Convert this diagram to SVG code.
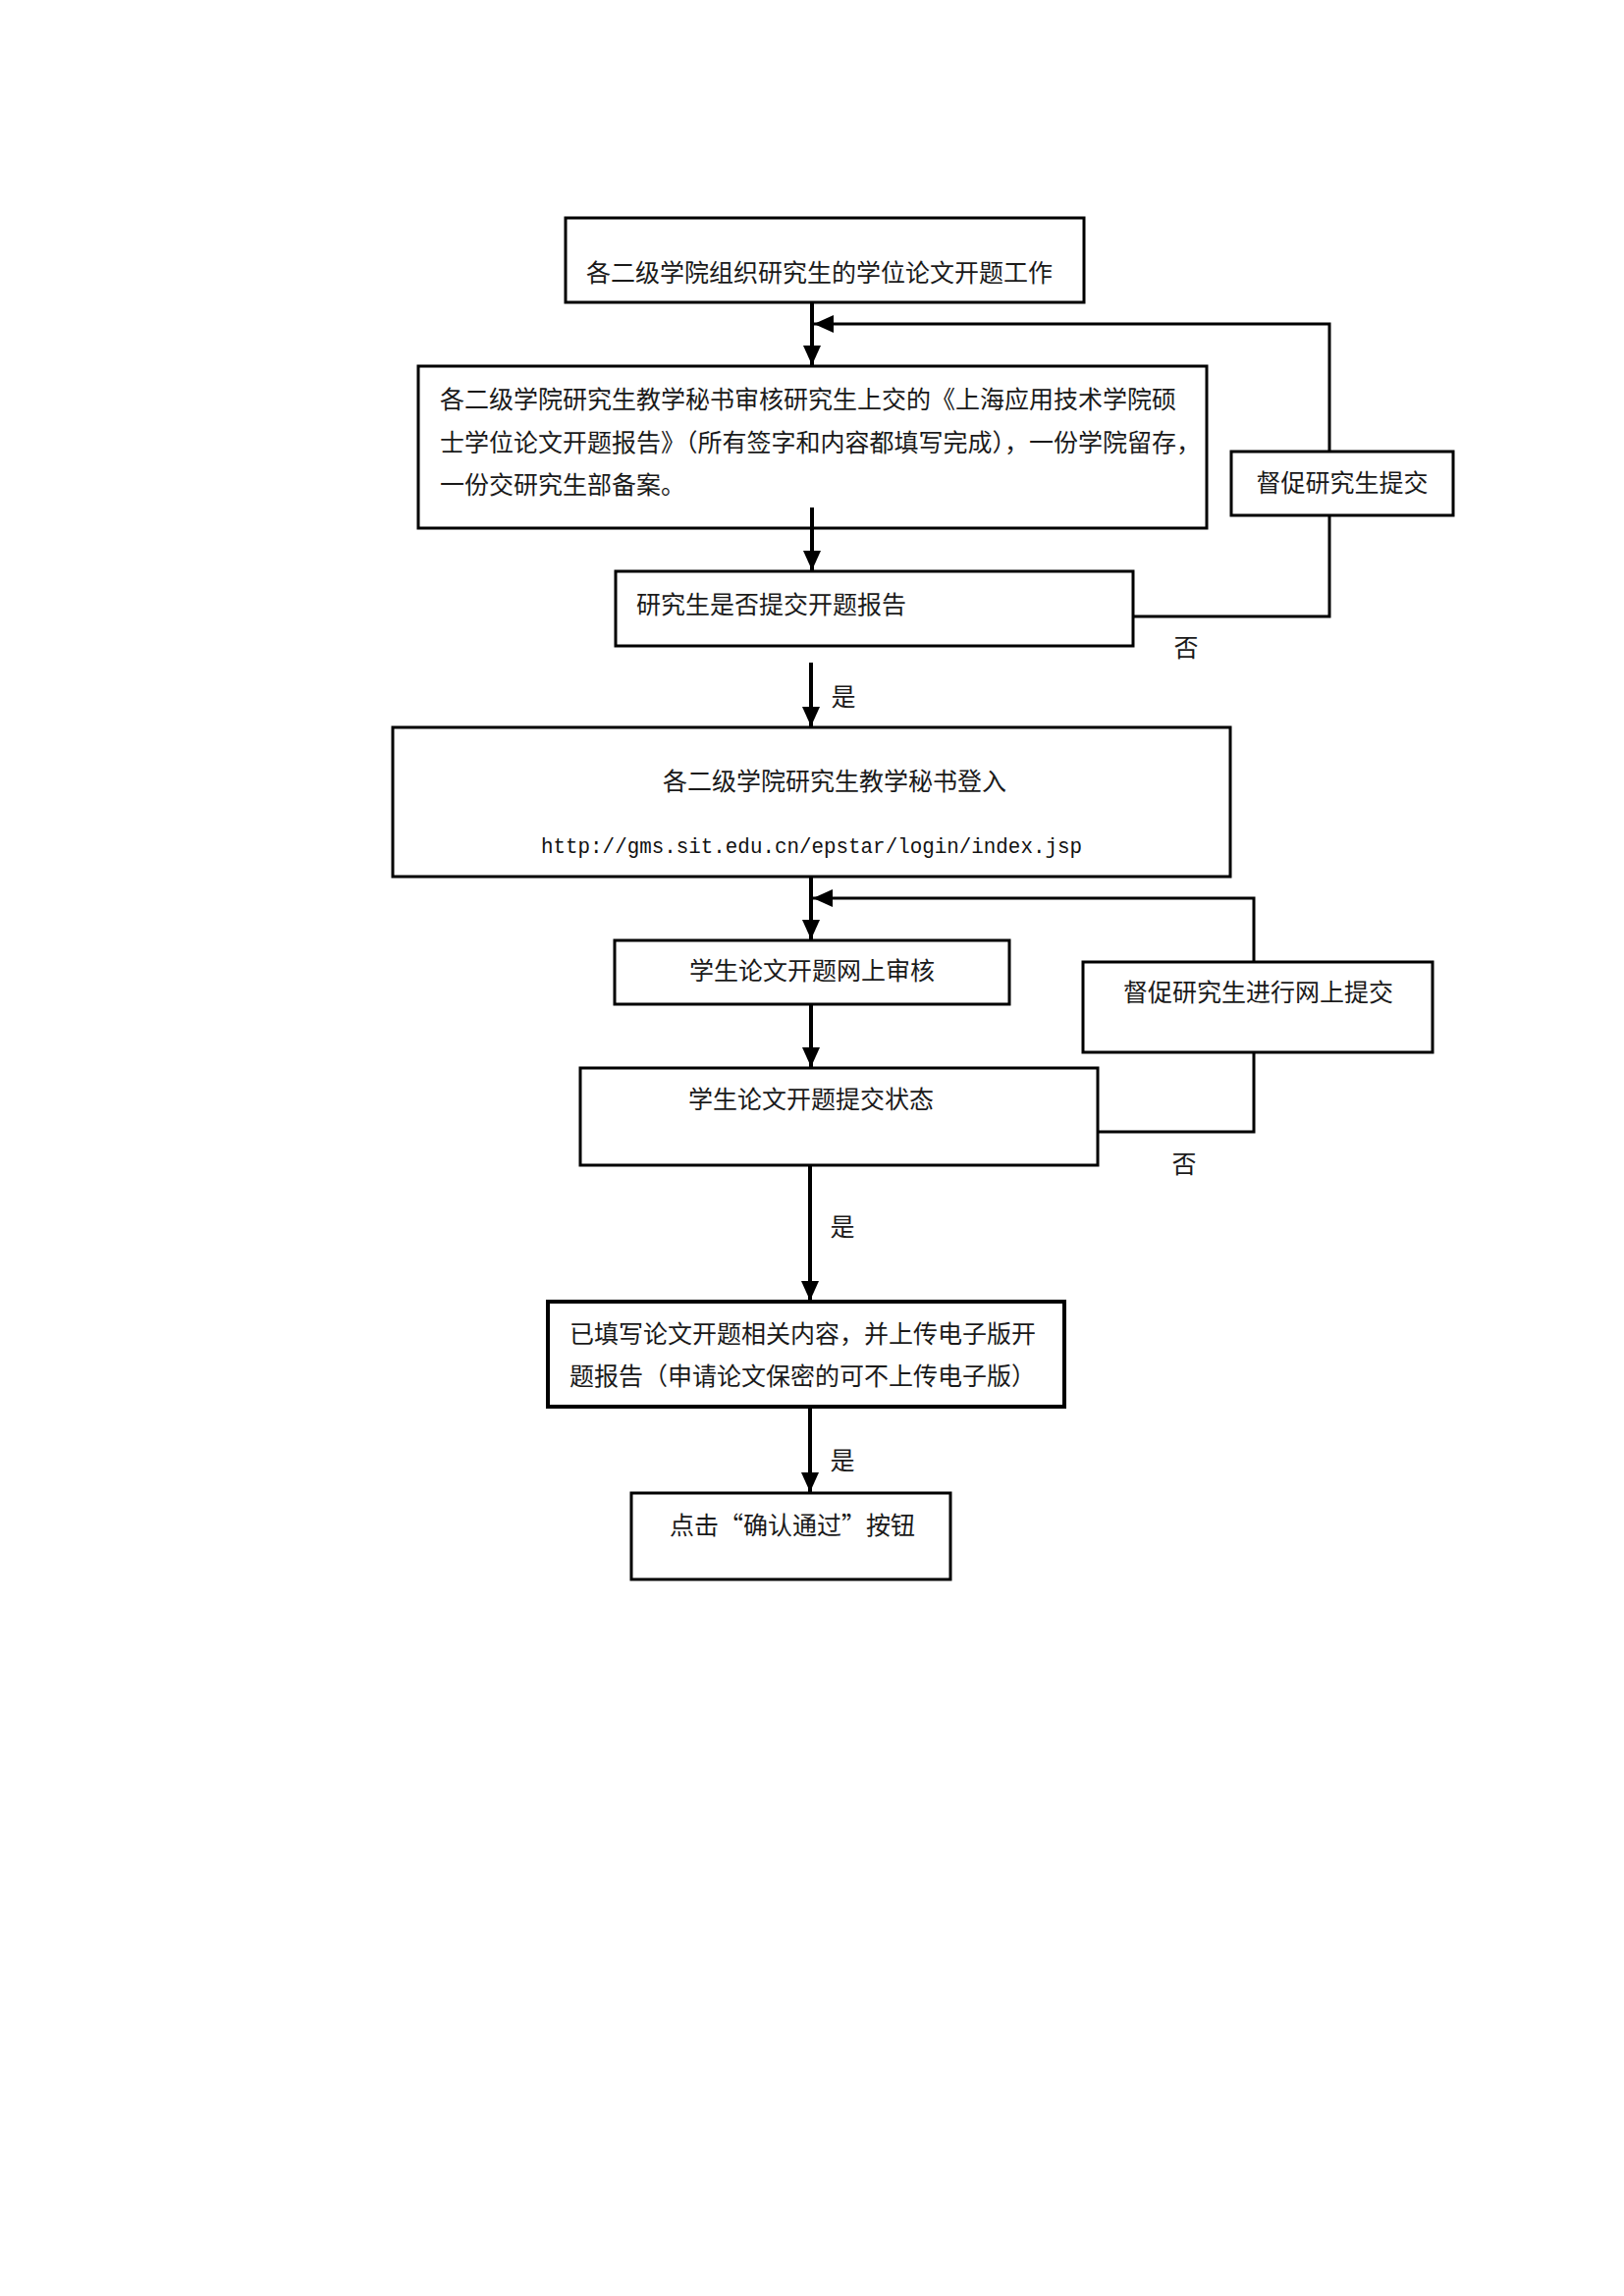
<svg xmlns="http://www.w3.org/2000/svg" width="1654" height="2339" viewBox="0 0 1654 2339">
<style>
.box{fill:#fff;stroke:#000;stroke-width:3}
.t{font-family:"Noto Sans CJK SC","Liberation Sans",sans-serif;font-size:25px;fill:#1a1a1a}
.u{font-family:"Liberation Mono",monospace;font-size:22px;fill:#111}
.c{fill:none;stroke:#000;stroke-width:4}
.c2{fill:none;stroke:#000;stroke-width:3}
</style>
<defs>
<marker id="ah" markerUnits="userSpaceOnUse" markerWidth="20" markerHeight="18" refX="20" refY="9" orient="auto">
<path d="M0,0 L20,9 L0,18 Z" fill="#000"/>
</marker>
</defs>
<rect width="1654" height="2339" fill="#fff"/>
<g id="connectors">
<line class="c" x1="827" y1="308" x2="827" y2="372" marker-end="url(#ah)"/>
<polyline class="c2" points="1354,460 1354,330 829,330" marker-end="url(#ah)"/>
<line class="c" x1="827" y1="517" x2="827" y2="581" marker-end="url(#ah)"/>
<polyline class="c2" points="1154,628 1354,628 1354,525"/>
<line class="c" x1="826" y1="675" x2="826" y2="740" marker-end="url(#ah)"/>
<line class="c" x1="826" y1="893" x2="826" y2="957" marker-end="url(#ah)"/>
<polyline class="c2" points="1277,980 1277,915 828,915" marker-end="url(#ah)"/>
<line class="c" x1="826" y1="1023" x2="826" y2="1087" marker-end="url(#ah)"/>
<polyline class="c2" points="1118,1153 1277,1153 1277,1072"/>
<line class="c" x1="825" y1="1187" x2="825" y2="1325" marker-end="url(#ah)"/>
<line class="c" x1="825" y1="1433" x2="825" y2="1520" marker-end="url(#ah)"/>
</g>
<g id="labels">
<text class="t" x="1208" y="669" text-anchor="middle">否</text>
<text class="t" x="859" y="719" text-anchor="middle">是</text>
<text class="t" x="1206" y="1195" text-anchor="middle">否</text>
<text class="t" x="858" y="1259" text-anchor="middle">是</text>
<text class="t" x="858" y="1497" text-anchor="middle">是</text>
</g>
<g id="n1">
<rect class="box" x="576" y="222" width="528" height="86"/>
<text class="t" x="597" y="287">各二级学院组织研究生的学位论文开题工作</text>
</g>
<g id="n2">
<rect class="box" x="426" y="373" width="803" height="165"/>
<text class="t" x="448" y="416">各二级学院研究生教学秘书审核研究生上交的《上海应用技术学院硕</text>
<text class="t" x="448" y="460">士学位论文开题报告》（所有签字和内容都填写完成），一份学院留存，</text>
<text class="t" x="448" y="503">一份交研究生部备案。</text>
</g>
<line class="c" x1="827" y1="517" x2="827" y2="540"/>
<g id="n3">
<rect class="box" x="1254" y="460" width="226" height="65"/>
<text class="t" x="1367" y="501" text-anchor="middle">督促研究生提交</text>
</g>
<g id="n4">
<rect class="box" x="627" y="582" width="527" height="76"/>
<text class="t" x="648" y="625">研究生是否提交开题报告</text>
</g>
<g id="n5">
<rect class="box" x="400" y="741" width="853" height="152"/>
<text class="t" x="850" y="805" text-anchor="middle">各二级学院研究生教学秘书登入</text>
<text class="u" x="551" y="869" textLength="551" lengthAdjust="spacingAndGlyphs">http://gms.sit.edu.cn/epstar/login/index.jsp</text>
</g>
<g id="n6">
<rect class="box" x="626" y="958" width="402" height="65"/>
<text class="t" x="702" y="998">学生论文开题网上审核</text>
</g>
<g id="n7">
<rect class="box" x="1103" y="980" width="356" height="92"/>
<text class="t" x="1144" y="1020">督促研究生进行网上提交</text>
</g>
<g id="n8">
<rect class="box" x="591" y="1088" width="527" height="99"/>
<text class="t" x="701" y="1129">学生论文开题提交状态</text>
</g>
<g id="n9">
<rect class="box" x="558" y="1326" width="526" height="107" style="stroke-width:4"/>
<text class="t" x="580" y="1368">已填写论文开题相关内容，并上传电子版开</text>
<text class="t" x="580" y="1411">题报告（申请论文保密的可不上传电子版）</text>
</g>
<g id="n10">
<rect class="box" x="643" y="1521" width="325" height="88"/>
<text class="t" x="682" y="1563">点击“确认通过”按钮</text>
</g>
</svg>
